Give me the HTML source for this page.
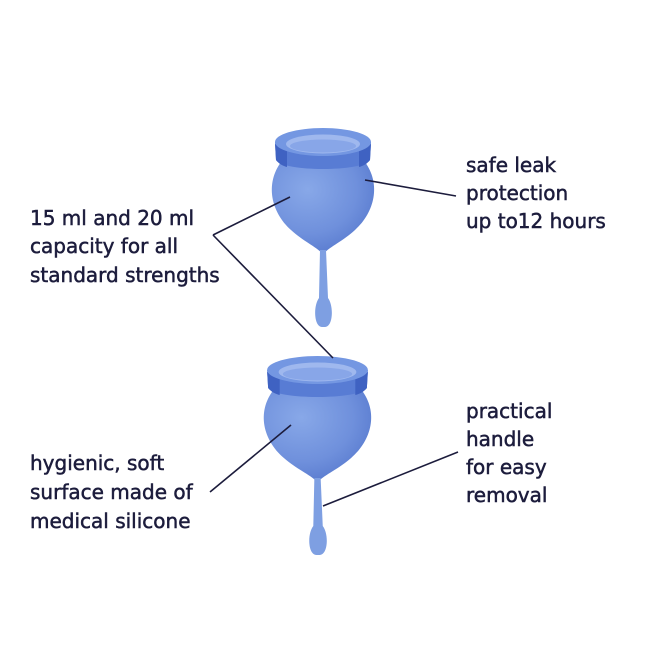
<!DOCTYPE html>
<html><head><style>
html,body{margin:0;padding:0;background:#fff;}
svg{display:block}
text{font-family:"DejaVu Sans","Liberation Sans",sans-serif;font-size:20px;fill:#1c1c3c;stroke:#1c1c3c;stroke-width:0.5px;}
</style></head><body>
<svg width="650" height="650" viewBox="0 0 650 650">
<defs>
<radialGradient id="bd" cx="0.35" cy="0.3" r="0.8">
<stop offset="0" stop-color="#88a8e8"/><stop offset="0.6" stop-color="#6f90dc"/><stop offset="1" stop-color="#5476cc"/>
</radialGradient>
<g id="cup">
<!-- body -->
<path d="M8,40 C-8,62 -2,90 18,108 C30,119 42,124 50,132 C58,124 70,119 82,108 C102,90 108,62 92,40 Z" fill="url(#bd)"/>
<!-- stem -->
<path d="M47,128 L46,176 C40,184 41,205 49,205 L52,205 C60,205 61,184 55,176 L53,128 Z" fill="#7e9fe2"/>
<!-- rim -->
<path d="M2,20 L3,38 C10,50 90,50 97,38 L98,20 Z" fill="#587cd4"/>
<path d="M2,22 L3,38 C6,42 10,44 14,45 L14,28 Z" fill="#3f62c2"/>
<path d="M98,22 L97,38 C94,42 90,44 86,45 L86,28 Z" fill="#3f62c2"/>
<ellipse cx="50" cy="20" rx="48" ry="14" fill="#7497e2"/>
<ellipse cx="50" cy="22" rx="37" ry="9.5" fill="#9fb8ee"/>
<ellipse cx="50" cy="24" rx="33" ry="6.5" fill="#88a6e8"/>
</g>
</defs>
<use href="#cup" transform="translate(273,122)"/>
<use href="#cup" transform="translate(265,350) scale(1.05,1.0)"/>
<g stroke="#1c1c3c" stroke-width="1.6" fill="none">
<line x1="213" y1="235" x2="290" y2="197"/>
<line x1="213" y1="235" x2="333" y2="358"/>
<line x1="365" y1="180" x2="456" y2="196"/>
<line x1="210" y1="492" x2="291" y2="425"/>
<line x1="323" y1="506" x2="458" y2="452"/>
</g>
<text x="30" y="225">15 ml and 20 ml</text>
<text x="30" y="253">capacity for all</text>
<text x="30" y="282">standard strengths</text>
<text x="466" y="172">safe leak</text>
<text x="466" y="200">protection</text>
<text x="466" y="228">up to12 hours</text>
<text x="466" y="418">practical</text>
<text x="466" y="446">handle</text>
<text x="466" y="474">for easy</text>
<text x="466" y="502">removal</text>
<text x="30" y="470">hygienic, soft</text>
<text x="30" y="499">surface made of</text>
<text x="30" y="528">medical silicone</text>
</svg>
</body></html>
